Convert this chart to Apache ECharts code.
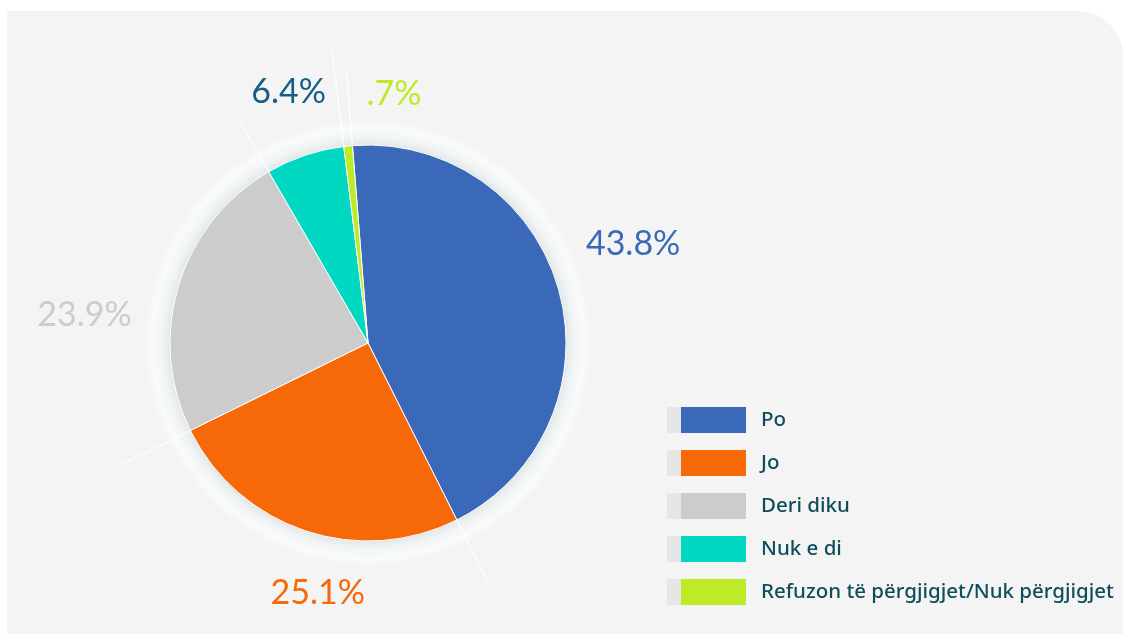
<!DOCTYPE html>
<html>
<head>
<meta charset="utf-8">
<title>Pie</title>
<script src="https://cdn.jsdelivr.net/npm/echarts@6/dist/echarts.min.js"></script>
<style>
    html, body { margin: 0; padding: 0; background: #ffffff; }
    #chart { width: 1123px; height: 635px; }
</style>
</head>
<body>
<div id="chart"></div>
<script>
// Chart data
const categories = ['Po', 'Jo', 'Deri diku', 'Nuk e di', 'Refuzon të përgjigjet/Nuk përgjigjet'];
const values = [43.8, 25.1, 23.9, 6.4, 0.7];
const sliceColors = ['#3b69b9', '#f76808', '#cccccc', '#00d8c2', '#bdeb28'];
const labelColors = ['#3b69b9', '#f76808', '#cccccc', '#155f85', '#bdeb28'];

// Layout
const center = [368, 343];
const pieRadius = 198;
const startAngle = 94.5;
// nudges so the percent labels sit where the original has them
const labelOffsets = [[7, -27], [35, -4], [-27, 50], [6, 3], [53, 18]];
// how far each white spoke runs out (one per slice start)
const spokeLengths = [276, 270, 273, 262, 293];

const total = values.reduce((a, b) => a + b, 0);

function formatPct(v) {
    return String(v).replace(/^0\./, '.') + '%';
}

const pieData = categories.map((name, i) => ({
    name: name,
    value: values[i],
    itemStyle: { color: sliceColors[i] }
}));

const labelData = categories.map((name, i) => ({
    name: name,
    value: values[i],
    label: {
        color: labelColors[i],
        offset: labelOffsets[i]
    }
}));

// white spokes along slice boundaries
const boundaries = [];
let acc = 0;
values.forEach(v => {
    boundaries.push(acc);
    acc += v;
});

const spokeSeries = boundaries.map((b, i) => ({
    type: 'line',
    coordinateSystem: 'polar',
    silent: true,
    symbol: 'none',
    z: 4,
    lineStyle: { color: '#ffffff', width: 1.2 },
    data: [[pieRadius, b], [spokeLengths[i], b]]
}));

const chart = echarts.init(document.getElementById('chart'));

const option = {
    animation: false,
    graphic: [{
        type: 'rect',
        z: -10,
        silent: true,
        shape: { x: 7, y: 11, width: 1116, height: 623, r: [0, 45, 0, 0] },
        style: { fill: '#f4f4f4' }
    }],
    polar: {
        center: center,
        radius: 300
    },
    angleAxis: {
        type: 'value',
        min: 0,
        max: total,
        startAngle: startAngle,
        clockwise: true,
        show: false
    },
    radiusAxis: {
        type: 'value',
        min: 0,
        max: 300,
        show: false
    },
    legend: [{
        orient: 'vertical',
        left: 667,
        top: 407,
        padding: 0,
        selectedMode: false,
        icon: 'rect',
        itemWidth: 14,
        itemHeight: 26,
        itemGap: 17,
        itemStyle: { color: '#e6e6e6', borderWidth: 0 },
        formatter: () => '',
        data: categories
    }, {
        orient: 'vertical',
        left: 681,
        top: 407,
        padding: 0,
        selectedMode: false,
        icon: 'rect',
        itemWidth: 65,
        itemHeight: 26,
        itemGap: 17,
        itemStyle: { borderWidth: 0 },
        textStyle: {
            color: '#0e4d5c',
            fontSize: 20.5,
            fontWeight: 500,
            fontFamily: 'Noto Sans',
            padding: [0, 0, 0, 10]
        },
        data: categories
    }],
    series: [{
        name: 'main',
        type: 'pie',
        center: center,
        radius: [0, pieRadius],
        startAngle: startAngle,
        clockwise: true,
        z: 3,
        silent: true,
        itemStyle: { borderColor: '#ffffff', borderWidth: 1 },
        label: { show: false },
        labelLine: { show: false },
        data: pieData
    }, {
        name: 'halo',
        type: 'pie',
        center: center,
        radius: [pieRadius - 2, pieRadius + 26],
        z: 1,
        silent: true,
        label: { show: false },
        labelLine: { show: false },
        itemStyle: {
            color: {
                type: 'radial', x: 0.5, y: 0.5, r: 0.5,
                colorStops: [
                    { offset: 0.88, color: '#e0e6e8' },
                    { offset: 0.92, color: '#f2f5f5' },
                    { offset: 0.96, color: '#f9fafa' },
                    { offset: 1, color: '#f4f4f4' }
                ]
            }
        },
        data: [{ name: '', value: 1 }]
    }, {
        name: 'labels',
        type: 'pie',
        center: center,
        radius: [235, 295],
        startAngle: startAngle,
        clockwise: true,
        z: 5,
        silent: true,
        itemStyle: { color: 'rgba(0,0,0,0)' },
        label: {
            show: true,
            position: 'inside',
            fontFamily: 'Lato',
            fontSize: 34,
            formatter: p => formatPct(p.value)
        },
        labelLine: { show: false },
        data: labelData
    }, ...spokeSeries]
};

chart.setOption(option);
</script>
</body>
</html>
